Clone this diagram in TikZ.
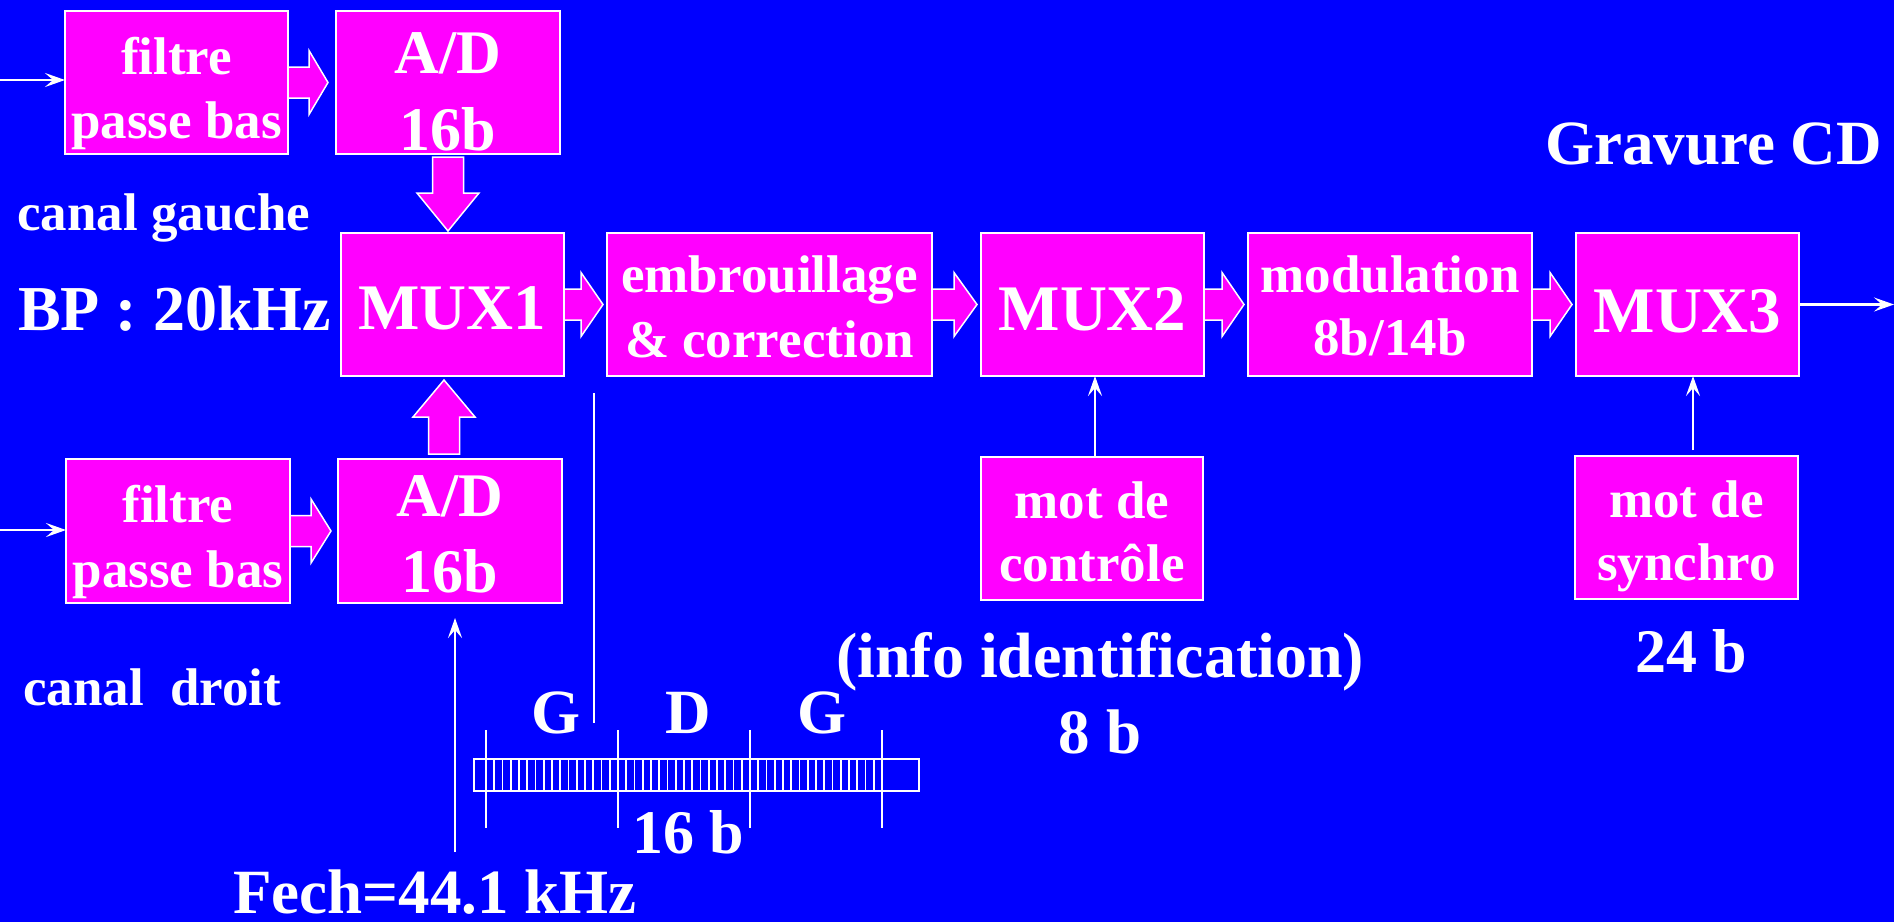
\documentclass[tikz,border=0pt]{standalone}
\usepackage{fontspec}
\setmainfont{Liberation Serif}
\usetikzlibrary{arrows.meta,calc}

\definecolor{bg}{RGB}{0,0,255}
\definecolor{mag}{RGB}{255,0,255}

% two-line box text: [last-line depth], first-line strut height (pt), then the two lines
\newcommand\twolines[4][12]{\rule{0pt}{#2pt}#3\\#4\rule[-#1pt]{0pt}{#1pt}}
\newcommand\oneline[2]{\rule{0pt}{#1pt}#2}

% wide hollow arrows between blocks: start anchor, tip anchor, head length
\newcommand\harrow[3]{\draw[barrow] let \p1=(#1), \p2=(#2) in
  (\x1,\y1+15.5pt) -- (\x2-#3pt,\y1+15.5pt) -- (\x2-#3pt,\y1+32pt) -- (\x2,\y1)
  -- (\x2-#3pt,\y1-32pt) -- (\x2-#3pt,\y1-15.5pt) -- (\x1,\y1-15.5pt) -- cycle;}
\newcommand\darrow[3]{\draw[barrow] let \p1=(#1), \p2=(#2) in
  (\x1-15.5pt,\y1) -- (\x1-15.5pt,\y2+#3pt) -- (\x1-31pt,\y2+#3pt) -- (\x1,\y2)
  -- (\x1+31pt,\y2+#3pt) -- (\x1+15.5pt,\y2+#3pt) -- (\x1+15.5pt,\y1) -- cycle;}
\newcommand\uarrow[3]{\draw[barrow] let \p1=(#1), \p2=(#2) in
  (\x1-15.5pt,\y1) -- (\x1-15.5pt,\y2-#3pt) -- (\x1-31pt,\y2-#3pt) -- (\x1,\y2)
  -- (\x1+31pt,\y2-#3pt) -- (\x1+15.5pt,\y2-#3pt) -- (\x1+15.5pt,\y1) -- cycle;}

\tikzset{
  box/.style={draw=white, line width=2pt, fill=mag, text=white, inner sep=0pt,
    outer sep=0pt, align=center, minimum width=223pt, minimum height=143pt},
  lbl/.style={text=white, inner sep=0pt, anchor=base},
  barrow/.style={fill=mag, draw=white, line width=1.5pt, line join=miter},
  sig/.style={draw=white, line width=2.4pt, -{Stealth[length=20pt,width=14pt,inset=8pt]}},
  plain/.style={draw=white, line width=2pt},
  hatch/.style={draw=white, line width=1.8pt},
}

\begin{document}
\begin{tikzpicture}[x=1pt, y=-1pt]
  \fill[bg] (0,0) rectangle (1894,922);
  \useasboundingbox (0,0) rectangle (1894,922);

  % left channel
  \node[box, font={\fontsize{53}{64}\selectfont\bfseries}] (tF) at (176.5,82.5)
    {\twolines{59}{filtre}{passe bas}};
  \node[box, minimum width=224pt, font={\fontsize{62}{77}\selectfont\bfseries}] (adT) at (448,82.5)
    {\twolines[0]{60}{A/D}{16b}};

  % right channel
  \node[box, minimum width=224pt, minimum height=144pt, font={\fontsize{53}{65}\selectfont\bfseries}] (bF) at (178,531)
    {\twolines{59}{filtre}{passe bas}};
  \node[box, minimum width=224pt, minimum height=144pt, font={\fontsize{62}{76}\selectfont\bfseries}] (adB) at (450,531)
    {\twolines[0]{48}{A/D}{16b}};

  % main chain
  \node[box, font={\fontsize{65}{78}\selectfont\bfseries}] (mux1) at (452.5,304.5) {\oneline{51}{MUX1}};
  \node[box, minimum width=325pt, font={\fontsize{53}{65}\selectfont\bfseries}] (emb) at (769.5,304.5)
    {\twolines{52}{embrouillage}{\& correction}};
  \node[box, font={\fontsize{65}{78}\selectfont\bfseries}] (mux2) at (1092.5,304.5) {\oneline{53}{MUX2}};
  \node[box, minimum width=284pt, font={\fontsize{53}{63}\selectfont\bfseries}] (mod) at (1390,304.5)
    {\twolines{50}{modulation}{8b/14b}};
  \node[box, font={\fontsize{65}{78}\selectfont\bfseries}] (mux3) at (1687.5,304.5) {\oneline{57}{MUX3}};

  % auxiliary words
  \node[box, minimum width=222pt, font={\fontsize{53}{63}\selectfont\bfseries}] (ctl) at (1092,528.5)
    {\twolines{54}{mot de}{contrôle}};
  \node[box, font={\fontsize{53}{63}\selectfont\bfseries}] (syn) at (1686.5,527.5)
    {\twolines{54}{mot de}{synchro}};

  % wide arrows
  \harrow{tF.east}{[xshift=-8pt]adT.west}{19}
  \harrow{bF.east}{[xshift=-7pt]adB.west}{20}
  \darrow{[yshift=-3pt]adT.south}{[yshift=2pt]mux1.north}{38}
  \uarrow{[xshift=-6pt,yshift=5pt]adB.north}{[xshift=-6pt,yshift=-4pt]mux1.south}{37}
  \harrow{mux1.east}{[xshift=-4pt]emb.west}{22}
  \harrow{emb.east}{[xshift=-4pt]mux2.west}{23}
  \harrow{mux2.east}{[xshift=-4pt]mod.west}{22}
  \harrow{mod.east}{[xshift=-4pt]mux3.west}{22}

  % signal lines
  \coordinate (inT) at (0,80);
  \coordinate (inB) at (0,530);
  \coordinate (outR) at (1894,304.5);
  \draw[sig] (inT) -- (inT -| tF.west);
  \draw[sig] (inB) -- (inB -| bF.west);
  \draw[sig] (mux3.east) -- (outR);
  \draw[sig] ([xshift=3pt]ctl.north) -- ([xshift=3pt]ctl.north |- mux2.south);
  \draw[sig, shorten <=6pt] ([xshift=6.5pt]syn.north) -- ([xshift=6.5pt]syn.north |- mux3.south);
  \coordinate (fech0) at (455,852);
  \draw[sig, shorten >=15pt] (fech0) -- (fech0 |- adB.south);

  % frame marker
  \coordinate (v1) at (594,393);
  \coordinate (v2) at (594,723);
  \draw[plain] (v1) -- (v2);

  % sample frame: 3 x 16 bits
  \draw[hatch] (474,759) rectangle (919,791);
  \foreach \k in {0,...,48} \draw[hatch] ({486+8.25*\k},759) -- ++(0,32);
  \foreach \x in {486,618,750,882} \draw[hatch] (\x,730) -- (\x,828);

  % labels
  \node[lbl, anchor=base west, font={\fontsize{53}{64}\selectfont\bfseries}] (lcg) at (17,230) {canal gauche};
  \node[lbl, anchor=base west, font={\fontsize{64}{76}\selectfont\bfseries}] (lbp) at (18,330) {BP : 20kHz};
  \node[lbl, anchor=base west, font={\fontsize{53}{64}\selectfont\bfseries}] (lcd) at (23,705) {canal\ \ droit};
  \node[lbl, anchor=base west, font={\fontsize{63}{76}\selectfont\bfseries}] (lgc) at (1545,164) {Gravure CD};
  \node[lbl, font={\fontsize{64}{76}\selectfont\bfseries}] (lid) at (1100,677) {(info identification)};
  \node[lbl, font={\fontsize{63}{76}\selectfont\bfseries}] (l8b) at (1100,753) {8 b};
  \node[lbl, font={\fontsize{62}{76}\selectfont\bfseries}] (l24) at (1691,672) {24 b};
  \node[lbl, anchor=base west, font={\fontsize{63}{76}\selectfont\bfseries}] (lfe) at (233,913) {Fech=44.1 kHz};
  \node[lbl, font={\fontsize{63}{76}\selectfont\bfseries}] (lg1) at (556,733) {G};
  \node[lbl, font={\fontsize{63}{76}\selectfont\bfseries}] (ld) at (688,733) {D};
  \node[lbl, font={\fontsize{63}{76}\selectfont\bfseries}] (lg2) at (822,733) {G};
  \node[lbl, font={\fontsize{62}{76}\selectfont\bfseries}] (l16) at (688,853) {16 b};
\end{tikzpicture}
\end{document}
